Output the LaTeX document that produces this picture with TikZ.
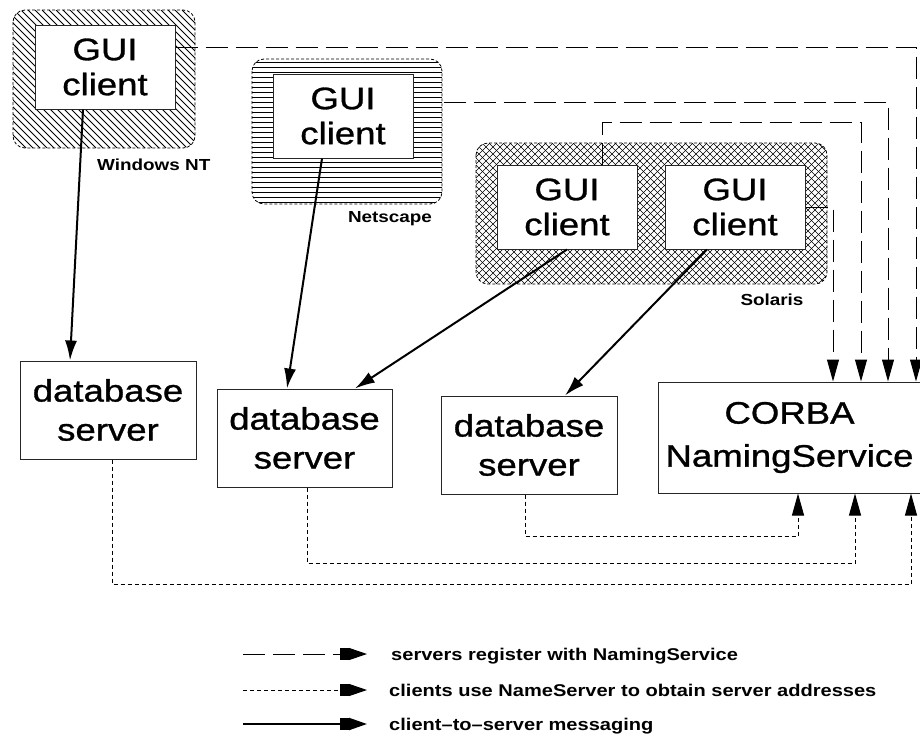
\documentclass[tikz,border=0pt]{standalone}
\usepackage{fontspec}
\setmainfont{Liberation Sans}
\newfontfamily\boxfont[FakeStretch=1.18,FakeBold=1]{Liberation Sans}
\newfontfamily\tagfont[FakeStretch=1.18]{Liberation Sans}
\usetikzlibrary{arrows.meta}

\begin{document}
\begin{tikzpicture}[x=1pt,y=-1pt,
  box/.style={draw=black!85, line width=1pt, fill=white, inner sep=0pt, align=center},
  guibox/.style={box, minimum width=140pt, minimum height=84pt,
    font=\boxfont\fontsize{31}{35}\selectfont},
  dbbox/.style={box, minimum width=176pt, minimum height=98pt,
    font=\boxfont\fontsize{31}{39}\selectfont},
  nsbox/.style={box, minimum width=263pt, minimum height=111pt,
    font=\boxfont\fontsize{31}{43}\selectfont},
  region/.style={draw, rounded corners=12pt, line width=0.8pt, dash pattern=on 3pt off 2pt},
  hatchline/.style={line width=0.8pt},
  tag/.style={font=\tagfont\bfseries\fontsize{16}{19}\selectfont, inner sep=0pt},
  legendtext/.style={font=\tagfont\bfseries\fontsize{17}{20}\selectfont, inner sep=0pt, anchor=base west},
  reg/.style={line width=1pt, dash pattern=on 22pt off 8pt, -{Triangle[length=22pt,width=12pt]}},
  lookup/.style={line width=1pt, dash pattern=on 4pt off 3pt, -{Triangle[length=22pt,width=12pt]}},
  msg/.style={line width=2pt, -{Latex[length=20pt,width=12pt]}},
  keytip/.style={-{Rectangle[length=9pt,width=12pt,sep=0pt]Triangle[length=18pt,width=12pt]}}
]
\useasboundingbox (0,0) rectangle (920,736);

% platform regions, hatched by hand inside their rounded outlines
\begin{scope}
  \clip[rounded corners=12pt] (13,10) rectangle (195,148);
  \foreach \k in {-126,-119,...,195} \draw[hatchline] (\k,10) -- ++(138,138);
\end{scope}
\path[region] (13,10) rectangle (195,148);

\begin{scope}
  \clip[rounded corners=12pt] (252,59) rectangle (442,204);
  \foreach \k in {62,67,...,202} \draw[hatchline, line width=1pt] (252,\k) -- (442,\k);
\end{scope}
\path[region] (252,59) rectangle (442,204);

\begin{scope}
  \clip[rounded corners=12pt] (476,143) rectangle (827,284);
  \foreach \k in {335,342,...,827} \draw[hatchline, line width=0.6pt] (\k,143) -- ++(141,141);
  \foreach \k in {476,483,...,968} \draw[hatchline, line width=0.6pt] (\k,143) -- ++(-141,141);
\end{scope}
\path[region] (476,143) rectangle (827,284);

\node[tag, anchor=base west] (winnt) at (97,170) {Windows NT};
\node[tag, anchor=base] (netscape) at (390,222) {Netscape};
\node[tag, anchor=base] (solaris) at (772,305) {Solaris};

% clients
\node[guibox] (gui1) at (105,67) {GUI\\client};
\node[guibox] (gui2) at (343,116) {GUI\\client};
\node[guibox] (gui3) at (567,207) {GUI\\client};
\node[guibox] (gui4) at (735,207) {GUI\\client};

% servers
\node[dbbox] (db1) at (108,410) {database\\server};
\node[dbbox, minimum width=175pt] (db2) at (304.5,438) {database\\server};
\node[dbbox] (db3) at (529,445) {database\\server};
\node[nsbox] (ns) at (789.5,437.5) {CORBA\\NamingService};

% entry points on the naming service
\coordinate (in1) at ([xshift=43.5pt]ns.north);
\coordinate (in2) at ([xshift=71.5pt]ns.north);
\coordinate (in3) at ([xshift=98.5pt]ns.north);
\coordinate (in4) at ([xshift=126.5pt]ns.north);
\coordinate (out1) at ([xshift=8.5pt]ns.south);
\coordinate (out2) at ([xshift=65.5pt]ns.south);
\coordinate (out3) at ([xshift=121.5pt]ns.south);

% long dashes: clients to the naming service
\draw[reg] ([yshift=20pt]gui1.east) -| (in4);
\draw[reg] ([yshift=14pt]gui2.east) -| (in3);
\coordinate (k3) at (861,122);
\draw[reg] ([xshift=35pt]gui3.north) |- (k3) -- (in2);
\draw[reg] (gui4.east) -| (in1);

% short dashes: servers to the naming service
\coordinate (b1) at (911,584);
\coordinate (b2) at (855,563);
\coordinate (b3) at (798,536);
\draw[lookup] ([xshift=4pt]db1.south) |- (b1) -- (out3);
\draw[lookup] ([xshift=2.5pt]db2.south) |- (b2) -- (out2);
\draw[lookup] ([xshift=-4pt]db3.south) |- (b3) -- (out1);

% client-to-server messaging
\draw[msg] ([xshift=-22pt]gui1.south) -- ([xshift=-38pt]db1.north);
\draw[msg] ([xshift=-21pt]gui2.south) -- ([xshift=-17.5pt]db2.north);
\draw[msg] (gui3.south) -- ([xshift=50.5pt]db2.north);
\draw[msg] ([xshift=-28pt]gui4.south) -- ([xshift=36pt]db3.north);

% legend
\coordinate (l1a) at (243,654); \coordinate (l1b) at (367,654);
\coordinate (l2a) at (243,690); \coordinate (l2b) at (367,690);
\coordinate (l3a) at (243,724); \coordinate (l3b) at (367,724);
\draw[line width=1pt, dash pattern=on 22pt off 8pt, keytip] (l1a) -- (l1b);
\draw[line width=1pt, dash pattern=on 4pt off 3pt, keytip] (l2a) -- (l2b);
\draw[line width=2pt, keytip] (l3a) -- (l3b);
\node[legendtext] (key1) at (391,660) {servers register with NamingService};
\node[legendtext] (key2) at (389,696) {clients use NameServer to obtain server addresses};
\node[legendtext] (key3) at (389,730) {client–to–server messaging};
\end{tikzpicture}
\end{document}
